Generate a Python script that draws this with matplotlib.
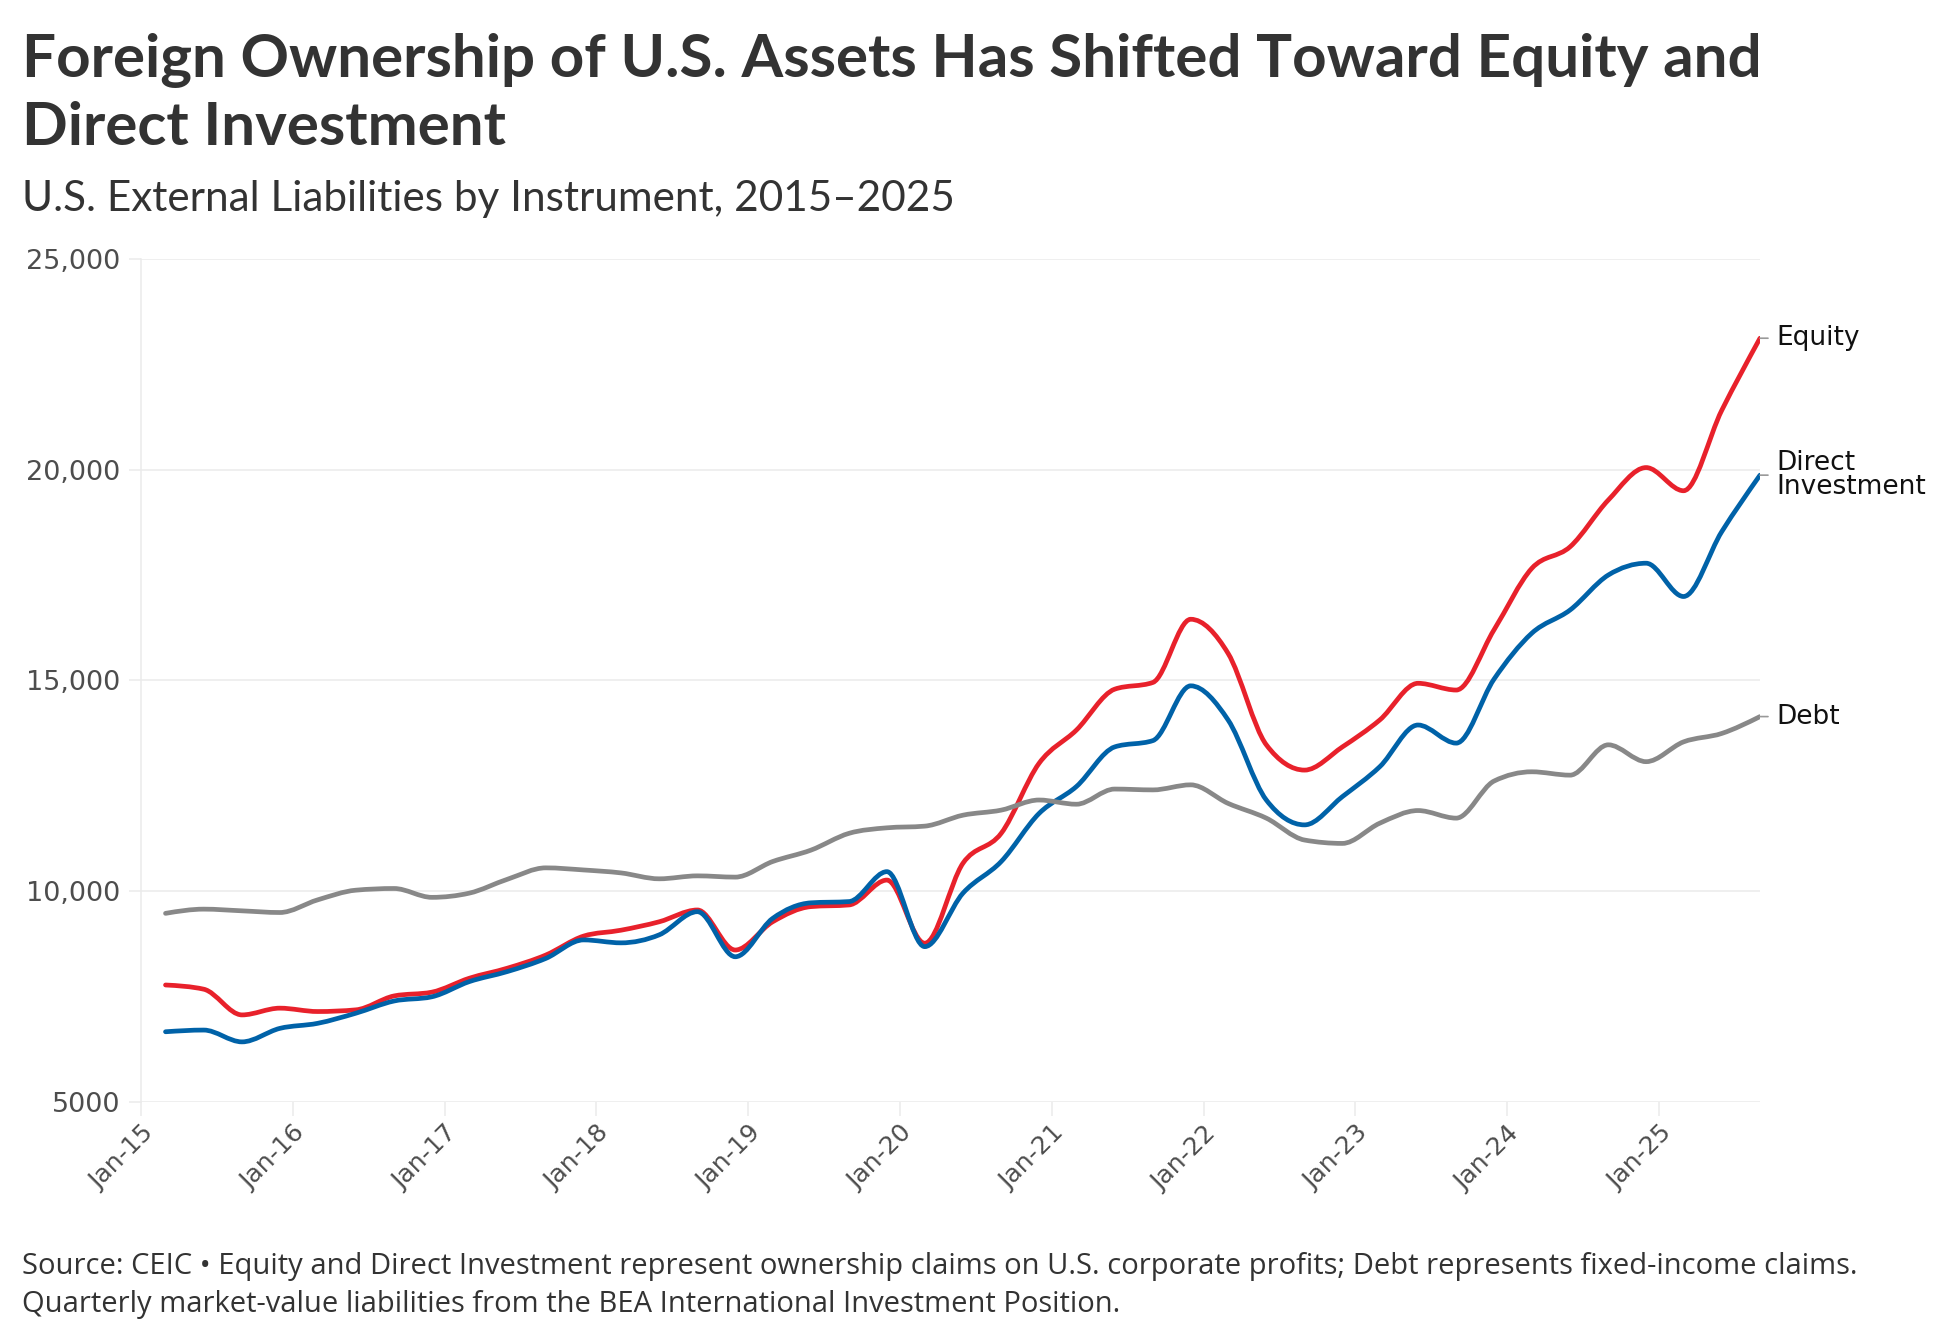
import numpy as np
import pandas as pd
import matplotlib
matplotlib.use("Agg")
import matplotlib.pyplot as plt
import matplotlib.dates as mdates
from matplotlib.path import Path
from matplotlib.patches import PathPatch

# quarterly values (Mar-15 .. Sep-25)
dates = pd.date_range("2015-03-01", "2025-09-01", freq="QS-MAR")
equity = [7770, 7670, 7060, 7220, 7140, 7180, 7510, 7600, 7930, 8170, 8480,
          8930, 9070, 9270, 9550, 8600, 9270, 9630, 9670, 10260, 8760, 10660,
          11370, 13030, 13820, 14790, 14950, 16450, 15640, 13470, 12870, 13420,
          14060, 14930, 14770, 16200, 17660, 18170, 19280, 20050, 19500, 21410,
          23120]
direct = [6660, 6700, 6420, 6740, 6860, 7100, 7390, 7490, 7850, 8090, 8400,
          8840, 8770, 8960, 9510, 8440, 9350, 9720, 9750, 10460, 8680, 9950,
          10700, 11840, 12480, 13420, 13570, 14870, 14060, 12160, 11570, 12240,
          12950, 13940, 13510, 15030, 16120, 16670, 17500, 17780, 16990, 18530,
          19870]
debt = [9470, 9570, 9530, 9490, 9790, 10020, 10060, 9850, 9950, 10280, 10550,
        10500, 10430, 10290, 10360, 10330, 10700, 10970, 11370, 11500, 11540,
        11800, 11920, 12160, 12060, 12420, 12400, 12520, 12080, 11730, 11210,
        11130, 11610, 11910, 11730, 12610, 12830, 12750, 13470, 13070, 13540,
        13740, 14140]

series_names = ["Equity", "Direct\nInvestment", "Debt"]
series_vals = [equity, direct, debt]
series_colors = ["#e8212b", "#0062a8", "#888888"]

tick_years = pd.date_range("2015-01-01", "2025-01-01", freq="YS")
y_ticks = [5000, 10000, 15000, 20000, 25000]


def monotone_path(x, y):
    # smooth monotone cubic through the points (like d3 curveMonotoneX)
    x = np.asarray(x, float)
    y = np.asarray(y, float)
    h = np.diff(x)
    s = np.diff(y) / h
    m = np.zeros_like(y)
    for i in range(1, len(y) - 1):
        p = (s[i - 1] * h[i] + s[i] * h[i - 1]) / (h[i - 1] + h[i])
        m[i] = (np.sign(s[i - 1]) + np.sign(s[i])) * min(abs(s[i - 1]), abs(s[i]), 0.5 * abs(p))
    m[0] = (3 * s[0] - m[1]) / 2
    m[-1] = (3 * s[-1] - m[-2]) / 2
    verts = [(x[0], y[0])]
    codes = [Path.MOVETO]
    for i in range(len(y) - 1):
        d = h[i] / 3
        verts += [(x[i] + d, y[i] + m[i] * d), (x[i + 1] - d, y[i + 1] - m[i + 1] * d), (x[i + 1], y[i + 1])]
        codes += [Path.CURVE4] * 3
    return Path(verts, codes)


fig = plt.figure(figsize=(19.48, 13.34), dpi=100)
ax = fig.add_axes([141 / 1948, 1 - 1101.7 / 1334, (1760 - 141) / 1948, (1101.7 - 259) / 1334])

xnum = mdates.date2num(dates)
for name, vals, col in zip(series_names, series_vals, series_colors):
    ax.add_patch(PathPatch(monotone_path(xnum, vals), fill=False, edgecolor=col,
                           lw=3.4, capstyle="round", joinstyle="round", zorder=3))
    # little leader tick and end label
    ax.annotate("", xy=(xnum[-1], vals[-1]), xycoords="data",
                xytext=(8, 0), textcoords="offset pixels",
                arrowprops=dict(arrowstyle="-", color="#999999", lw=1.2,
                                shrinkA=0, shrinkB=0), annotation_clip=False)
    ax.annotate(name, xy=(xnum[-1], vals[-1]), xytext=(16, 0),
                textcoords="offset pixels", va="center", ha="left",
                fontsize=19, color="#111111", linespacing=0.9,
                annotation_clip=False, family="DejaVu Sans")

ax.set_xlim(mdates.date2num(pd.Timestamp("2015-01-01")), xnum[-1])
ax.set_ylim(5000, 25000)

ax.set_yticks(y_ticks)
ax.set_yticklabels([f"{v:,}" if v >= 10000 else str(v) for v in y_ticks])
ax.set_xticks(mdates.date2num(tick_years))
ax.set_xticklabels([d.strftime("%b-%y") for d in tick_years])

ax.grid(axis="y", color="#ebebeb", lw=1.1)
ax.set_axisbelow(True)
for side in ["top", "right", "bottom"]:
    ax.spines[side].set_visible(False)
ax.spines["left"].set_color("#ebebeb")
ax.spines["left"].set_linewidth(1.1)

ax.tick_params(axis="y", length=9, width=1.1, color="#ebebeb", pad=6,
               labelsize=19.5, labelcolor="#4d4d4d")
ax.tick_params(axis="x", length=10, width=1.1, color="#ebebeb", pad=4,
               labelsize=18, labelcolor="#4d4d4d")
for lab in ax.get_xticklabels():
    lab.set_rotation(45)
    lab.set_ha("right")
    lab.set_rotation_mode("anchor")

# titles and footer
fig.text(22 / 1948, 1 - 77 / 1334, "Foreign Ownership of U.S. Assets Has Shifted Toward Equity and",
         fontsize=43.3, fontweight="bold", family="Lato", color="#333333", va="baseline")
fig.text(22 / 1948, 1 - 145 / 1334, "Direct Investment",
         fontsize=43.3, fontweight="bold", family="Lato", color="#333333", va="baseline")
fig.text(22 / 1948, 1 - 211 / 1334, "U.S. External Liabilities by Instrument, 2015\u20132025",
         fontsize=30.4, family="Lato", color="#333333", va="baseline")
fig.text(22 / 1948, 1 - 1274 / 1334,
         "Source: CEIC \u2022 Equity and Direct Investment represent ownership claims on U.S. "
         "corporate profits; Debt represents fixed-income claims.",
         fontsize=21, family="Open Sans", color="#333333", va="baseline")
fig.text(22 / 1948, 1 - 1312 / 1334,
         "Quarterly market-value liabilities from the BEA International Investment Position.",
         fontsize=21, family="Open Sans", color="#333333", va="baseline")

fig.savefig("out.png", dpi=100, facecolor="white")
